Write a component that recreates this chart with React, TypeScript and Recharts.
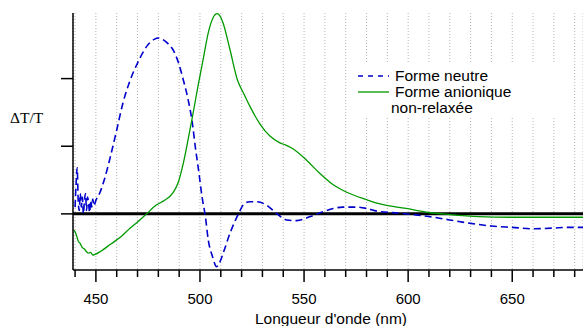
import {
  LineChart,
  Line,
  XAxis,
  YAxis,
  CartesianGrid,
  ReferenceLine,
  Legend,
  Label,
} from 'recharts';

// wavelength (nm) / ΔT/T (arbitrary units)
const neutralWl = [
  440, 440.5, 441, 441.5, 442, 442.5, 443, 443.5, 444, 444.5, 445, 445.5, 446, 446.5, 447, 447.5,
  448, 448.5, 449, 450, 452, 454, 457, 460, 463, 466.5, 470, 474.5, 478, 480, 482, 484.5, 487, 489.5,
  492, 494.3, 496.3, 497.8, 499.3, 501, 502.6, 504, 506, 508, 510, 511.5, 514.5, 518.5, 521, 524, 527,
  532, 537, 541.7, 546.5, 553, 559, 564, 568.6, 575, 580, 585, 596, 610, 620, 630, 640, 650, 660, 670,
  676, 684,
];
const neutralVal = [
  0.1, 0.45, 0.68, 0.2, 0.05, 0.3, 0.1, 0.25, 0.0, 0.2, 0.3, 0.05, 0.25, 0.15, 0.02, 0.2,
  0.1, 0.22, 0.12, 0.2, 0.32, 0.5, 0.85, 1.24, 1.64, 1.98, 2.23, 2.48, 2.58, 2.6, 2.58, 2.52, 2.43, 2.25,
  1.98, 1.69, 1.35, 0.98, 0.65, 0.25, -0.04, -0.39, -0.63, -0.78, -0.68, -0.55, -0.28, 0.0, 0.14, 0.18, 0.18,
  0.13, 0.0, -0.09, -0.1, -0.04, 0.03, 0.08, 0.1, 0.1, 0.08, 0.04, 0.01, -0.04, -0.09, -0.14, -0.18, -0.2, -0.22, -0.21,
  -0.2, -0.2,
];

const anionWl = [
  439.5, 440.5, 441.5, 442.5, 443.5, 444.5, 445.5, 446.5, 447.5, 448.5, 449.5, 452, 457, 462, 466.5,
  470, 474, 479, 483, 487, 489.5, 492, 494.3, 496.7, 499, 501.5, 504, 506.3, 508.2, 509.5, 511, 514.4,
  518, 521, 524, 529, 533.6, 538.4, 541, 544.8, 551, 557.5, 564, 570.5, 580, 586, 599, 610, 620, 634,
  650, 684,
];
const anionVal = [
  -0.24, -0.3, -0.4, -0.44, -0.5, -0.52, -0.56, -0.58, -0.57, -0.61, -0.6, -0.56, -0.45, -0.34, -0.21,
  -0.12, -0.01, 0.13, 0.2, 0.31, 0.46, 0.75, 1.1, 1.49, 1.88, 2.28, 2.68, 2.9, 2.96, 2.93, 2.83, 2.43,
  1.98, 1.78, 1.59, 1.32, 1.15, 1.05, 1.02, 0.96, 0.8, 0.6, 0.43, 0.32, 0.21, 0.15, 0.08, 0.02, -0.01, -0.04,
  -0.05, -0.05,
];

const xTicks = [440, 450, 460, 470, 480, 490, 500, 510, 520, 530, 540, 550, 560, 570, 580, 590, 600, 610, 620, 630, 640, 650, 660, 670, 680];
const yTicks = [0, 1, 2];

const neutralData = neutralWl.map((wl, i) => ({ wl, v: neutralVal[i] }));
const anionData = anionWl.map((wl, i) => ({ wl, v: anionVal[i] }));

const FONT = '"Liberation Sans", Arial, Helvetica, sans-serif';
const BLUE = '#0000cc';
const GREEN = '#009900';

const WaveTick = (props: any) => {
  const { x, y, payload } = props;
  const major = payload.value % 50 === 0;
  return (
    <g>
      <line x1={x} y1={y} x2={x} y2={y + (major ? 12 : 7)} stroke="#000" strokeWidth={1.5} />
      {major && (
        <text x={x} y={y + 34} textAnchor="middle" fontSize={15} fontFamily={FONT} fill="#000">
          {payload.value}
        </text>
      )}
    </g>
  );
};

const renderLegend = () => (
  <div
    style={{
      background: '#fff',
      fontFamily: FONT,
      fontSize: 15.5,
      lineHeight: '16px',
      color: '#000',
      padding: '6px 0 2px 8px',
      width: 197,
      whiteSpace: 'nowrap',
    }}
  >
    <div style={{ display: 'flex', alignItems: 'center', height: 16 }}>
      <svg width={31} height={10} style={{ marginRight: 6 }}>
        <line x1={0} y1={5} x2={31} y2={5} stroke={BLUE} strokeWidth={1.6} strokeDasharray="5 5" />
      </svg>
      Forme neutre
    </div>
    <div style={{ display: 'flex', alignItems: 'center', height: 16 }}>
      <svg width={31} height={10} style={{ marginRight: 6 }}>
        <line x1={0} y1={5} x2={31} y2={5} stroke={GREEN} strokeWidth={1.3} />
      </svg>
      Forme anionique
    </div>
    <div style={{ paddingLeft: 33, height: 16 }}>non-relaxée</div>
  </div>
);

export default function App() {
  return (
    <div style={{ position: 'fixed', left: 0, top: 0, background: '#fff' }}>
      <LineChart width={583} height={326} margin={{ top: 13, right: 0, left: 0, bottom: 0 }}>
        <CartesianGrid vertical horizontal={false} stroke="#b4b4b4" strokeDasharray="1 2" />
        <XAxis
          dataKey="wl"
          type="number"
          domain={[439, 684]}
          ticks={xTicks}
          allowDataOverflow
          height={56}
          stroke="#000"
          strokeWidth={1.5}
          tickSize={0}
          tickMargin={0}
          tickLine={false}
          tick={<WaveTick />}
          interval={0}
        >
          <Label
            content={() => (
              <text x={331} y={324} textAnchor="middle" fontSize={15.5} fontFamily={FONT} fill="#000">
                Longueur d'onde (nm)
              </text>
            )}
          />
        </XAxis>
        <YAxis
          type="number"
          domain={[-0.83, 2.97]}
          ticks={yTicks}
          allowDataOverflow
          width={73}
          stroke="#000"
          strokeWidth={1.5}
          tickSize={12}
          tickFormatter={() => ''}
          tickLine={{ stroke: '#000', strokeWidth: 1.5 }}
        >
          <Label
            content={() => (
              <text x={10} y={123} fontSize={15.5} fontFamily='"Liberation Serif", "Times New Roman", serif' fill="#000">
                ΔT/T
              </text>
            )}
          />
        </YAxis>
        <ReferenceLine y={0} stroke="#000" strokeWidth={3} />
        <Line
          data={neutralData}
          dataKey="v"
          name="Forme neutre"
          type="monotone"
          stroke={BLUE}
          strokeWidth={1.6}
          strokeDasharray="7 4"
          dot={false}
          isAnimationActive={false}
        />
        <Line
          data={anionData}
          dataKey="v"
          name="Forme anionique non-relaxée"
          type="monotone"
          stroke={GREEN}
          strokeWidth={1.3}
          dot={false}
          isAnimationActive={false}
        />
        <Legend
          layout="vertical"
          align="center"
          verticalAlign="middle"
          content={renderLegend}
          wrapperStyle={{ left: 350, top: 62, width: 'auto' }}
        />
      </LineChart>
    </div>
  );
}
